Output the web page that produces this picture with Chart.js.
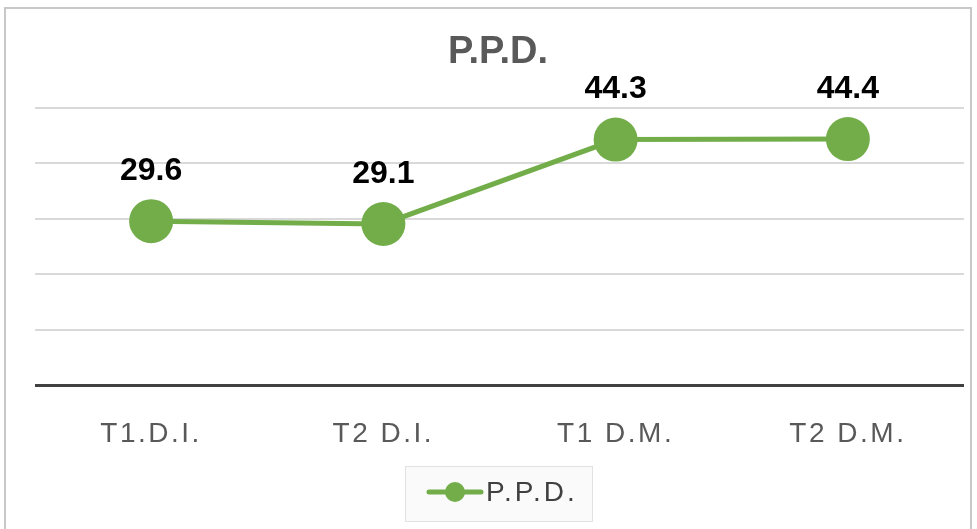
<!DOCTYPE html>
<html>
<head>
<meta charset="utf-8">
<script src="https://cdn.jsdelivr.net/npm/chart.js@4/dist/chart.umd.min.js"></script>
<style>
  html,body{margin:0;padding:0;background:#fff;}
  #wrap{position:absolute;left:0;top:0;width:977px;height:529px;}
</style>
</head>
<body>
<div id="wrap"><canvas id="c" width="977" height="529"></canvas></div>
<script>
// ── Data ──
const categories = ['T1.D.I.', 'T2 D.I.', 'T1 D.M.', 'T2 D.M.'];
const ppdValues = [29.6, 29.1, 44.3, 44.4];
const seriesName = 'P.P.D.';
const chartTitle = 'P.P.D.';

const GREEN = '#72ad4a';
const FONT = "'Liberation Sans', Arial, Helvetica, sans-serif";

// ── Frame, title, value labels, legend ──
const decor = {
  id: 'decor',
  beforeDraw(chart) {
    const ctx = chart.ctx;
    ctx.save();
    ctx.strokeStyle = '#c8c8c8';
    ctx.lineWidth = 2;
    ctx.beginPath();
    ctx.moveTo(5, 529); ctx.lineTo(5, 8); ctx.lineTo(971, 8); ctx.lineTo(971, 529);
    ctx.stroke();
    ctx.restore();
    // spaced-out axis labels
    ctx.letterSpacing = '2.5px';
  },
  beforeDatasetsDraw(chart) {
    chart.ctx.letterSpacing = '0px';
  },
  afterDatasetsDraw(chart) {
    const ctx = chart.ctx;
    const meta = chart.getDatasetMeta(0);
    ctx.save();
    ctx.font = 'bold 32px ' + FONT;
    ctx.fillStyle = '#000';
    ctx.textAlign = 'center';
    ctx.textBaseline = 'middle';
    meta.data.forEach((pt, i) => {
      ctx.fillText(ppdValues[i].toFixed(1), pt.x, pt.y - 50);
    });
    ctx.restore();
  },
  afterDraw(chart) {
    const ctx = chart.ctx;
    ctx.save();
    // title
    ctx.font = 'bold 38px ' + FONT;
    ctx.fillStyle = '#595959';
    ctx.textAlign = 'center';
    ctx.textBaseline = 'middle';
    ctx.fillText(chartTitle, 498, 53);
    // legend box
    ctx.fillStyle = '#fafafa';
    ctx.fillRect(405, 466, 187, 55);
    ctx.strokeStyle = '#e2e2e2';
    ctx.lineWidth = 1;
    ctx.strokeRect(405.5, 466.5, 187, 55);
    ctx.strokeStyle = GREEN;
    ctx.lineWidth = 5;
    ctx.lineCap = 'round';
    ctx.beginPath();
    ctx.moveTo(429, 492); ctx.lineTo(481, 492);
    ctx.stroke();
    ctx.fillStyle = GREEN;
    ctx.beginPath();
    ctx.arc(455, 492, 10, 0, Math.PI * 2);
    ctx.fill();
    ctx.font = '28px ' + FONT;
    ctx.letterSpacing = '3px';
    ctx.fillStyle = '#404040';
    ctx.textAlign = 'left';
    ctx.fillText(seriesName, 486, 493);
    ctx.restore();
  }
};

new Chart(document.getElementById('c'), {
  type: 'line',
  data: {
    labels: categories,
    datasets: [{
      label: seriesName,
      data: ppdValues,
      borderColor: GREEN,
      backgroundColor: GREEN,
      borderWidth: 5,
      pointRadius: 22,
      pointHoverRadius: 22,
      pointBackgroundColor: GREEN,
      pointBorderColor: GREEN,
      pointBorderWidth: 0,
      tension: 0
    }]
  },
  options: {
    responsive: false,
    animation: false,
    layout: { autoPadding: false, padding: { left: 35, right: 13, top: 108, bottom: 46 } },
    plugins: {
      legend: { display: false },
      title: { display: false },
      tooltip: { enabled: false }
    },
    scales: {
      x: {
        offset: true,
        grid: { display: false, drawTicks: false },
        border: { display: false },
        ticks: { font: { family: FONT, size: 28 }, color: '#595959', padding: 32 }
      },
      y: {
        min: 0, max: 50,
        ticks: { display: false, stepSize: 10 },
        border: { display: false },
        grid: {
          drawTicks: false,
          color: c => c.tick.value === 0 ? '#404040' : '#d9d9d9',
          lineWidth: c => c.tick.value === 0 ? 3 : 2
        }
      }
    }
  },
  plugins: [decor]
});
</script>
</body>
</html>
